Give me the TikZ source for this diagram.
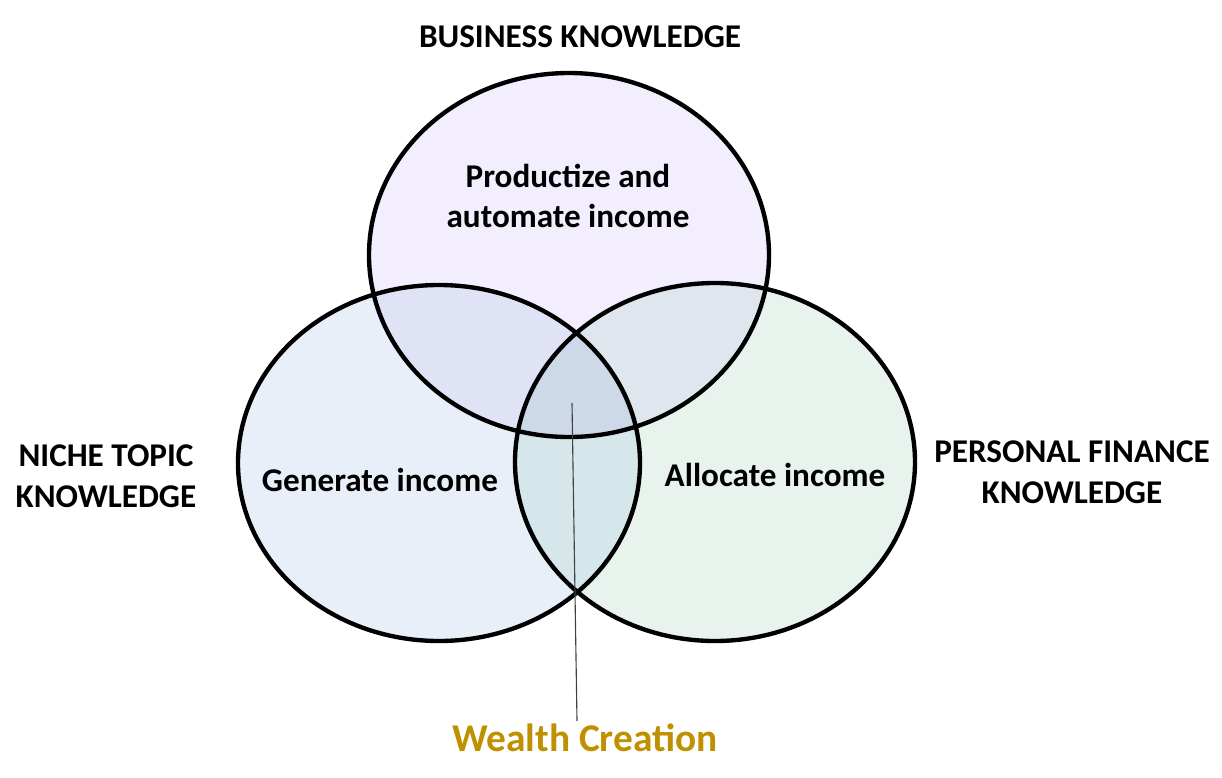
\documentclass[tikz,border=0pt]{standalone}
\usepackage{fontspec}
\setmainfont{Carlito}
\definecolor{bizfill}{HTML}{F3EEFD}
\definecolor{nichefill}{HTML}{E9EFF8}
\definecolor{finfill}{HTML}{E9F3EE}
\definecolor{biznichefill}{HTML}{E0E2F6}
\definecolor{bizfinfill}{HTML}{E0E6EE}
\definecolor{nichefinfill}{HTML}{D6E7EB}
\definecolor{allfill}{HTML}{CDD9E9}
\definecolor{wealthgold}{HTML}{BF9000}
\newcommand{\bizring}{(biz) ellipse [x radius=200,y radius=182]}
\newcommand{\nichering}{(niche) ellipse [x radius=201,y radius=178]}
\newcommand{\finring}{(fin) ellipse [x radius=200,y radius=179]}
\begin{document}
\begin{tikzpicture}[x=0.025cm,y=-0.025cm,
  lbl/.style={font=\bfseries\fontsize{23.6}{29}\selectfont,align=center,inner sep=0pt},
  ring/.style={line width=3.1pt}]
\useasboundingbox (0,0) rectangle (1222,777);
\coordinate (biz) at (569,255);
\coordinate (niche) at (439,463);
\coordinate (fin) at (715,462);

% fills
\fill[bizfill] \bizring;
\fill[nichefill] \nichering;
\fill[finfill] \finring;
\begin{scope}
\clip \bizring;
\fill[biznichefill] \nichering;
\fill[bizfinfill] \finring;
\end{scope}
\begin{scope}
\clip \nichering;
\fill[nichefinfill] \finring;
\clip \finring;
\fill[allfill] \bizring;
\end{scope}

% outlines
\draw[ring] \bizring;
\draw[ring] \nichering;
\draw[ring] \finring;

\node[lbl] (bizhead) at (580,37) {BUSINESS KNOWLEDGE};
\node[lbl] (nichehead) at (106,476) {NICHE TOPIC\\KNOWLEDGE};
\node[lbl] (finhead) at (1072,472) {PERSONAL FINANCE\\KNOWLEDGE};

\node[lbl] (bizin) at (568,196) {Productize and\\automate income};
\node[lbl] (nichein) at (380,480) {Generate income};
\node[lbl] (finin) at (775,475) {Allocate income};

\node[lbl,font=\bfseries\fontsize{28}{34}\selectfont,text=wealthgold] (wealth) at (585,738) {Wealth Creation};
\coordinate (core) at (572,403);
\draw[line width=0.8pt,black!75] (core) -- ([yshift=2pt]wealth.north -| 577,0);
\end{tikzpicture}
\end{document}
